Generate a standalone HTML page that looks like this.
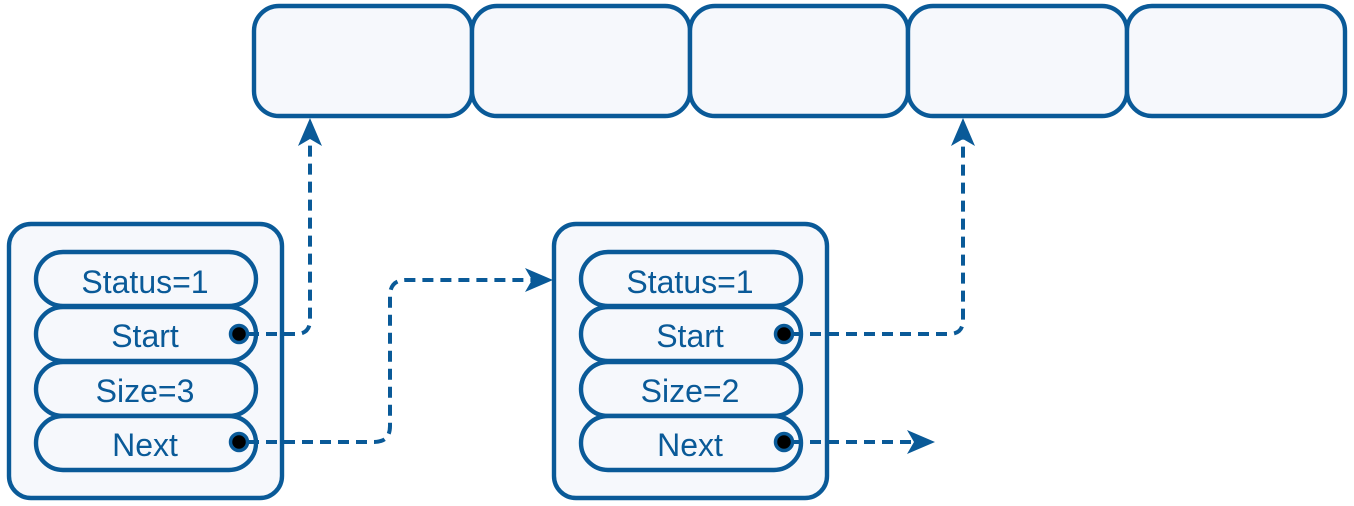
<!DOCTYPE html>
<html><head><style>
html,body{margin:0;padding:0;background:#fff;}
svg{display:block;}
text{font-family:"Liberation Sans",sans-serif;font-size:32px;fill:#0a5a98;text-anchor:middle;}
</style></head><body>
<svg width="1354" height="506" viewBox="0 0 1354 506" xmlns="http://www.w3.org/2000/svg">
<g fill="#f6f8fc" stroke="#0a5a98" stroke-width="4.4">
<rect x="254" y="6" width="218" height="110" rx="25"/>
<rect x="472" y="6" width="218" height="110" rx="25"/>
<rect x="690" y="6" width="218" height="110" rx="25"/>
<rect x="908" y="6" width="219" height="110" rx="25"/>
<rect x="1127" y="6" width="218" height="110" rx="25"/>
<rect x="9" y="224" width="273" height="274" rx="22"/>
<rect x="554" y="224" width="273" height="274" rx="22"/>
<rect x="36" y="252" width="220" height="54" rx="27"/>
<rect x="36" y="307" width="220" height="54" rx="27"/>
<rect x="36" y="362" width="220" height="54" rx="27"/>
<rect x="36" y="416" width="220" height="54" rx="27"/>
<rect x="581" y="252" width="220" height="54" rx="27"/>
<rect x="581" y="307" width="220" height="54" rx="27"/>
<rect x="581" y="362" width="220" height="54" rx="27"/>
<rect x="581" y="416" width="220" height="54" rx="27"/>
</g>
<text x="145" y="293">Status=1</text>
<text x="145" y="347">Start</text>
<text x="145" y="402">Size=3</text>
<text x="145" y="456">Next</text>
<text x="690" y="293">Status=1</text>
<text x="690" y="347">Start</text>
<text x="690" y="402">Size=2</text>
<text x="690" y="456">Next</text>
<g fill="none" stroke="#0a5a98" stroke-width="4" stroke-dasharray="11,7">
<path d="M248 334 H296 Q310 334 310 320 V135"/>
<path d="M248 442 H374 Q390 442 390 426 V296 Q390 280 406 280 H535"/>
<path d="M792 334 H949 Q963 334 963 320 V135"/>
<path d="M792 442 H918"/>
</g>
<g fill="#0a5a98">
<path d="M310 118 L322 146 L310 139 L298 146 Z"/>
<path d="M963 118 L975 146 L963 139 L951 146 Z"/>
<path d="M553 280 L525 292 L532 280 L525 268 Z"/>
<path d="M935 442 L907 454 L914 442 L907 430 Z"/>
</g>
<g fill="#000" stroke="#0a5a98" stroke-width="3.5">
<circle cx="239" cy="334" r="8.5"/>
<circle cx="239" cy="442" r="8.5"/>
<circle cx="784" cy="334" r="8.5"/>
<circle cx="784" cy="442" r="8.5"/>
</g>
</svg>
</body></html>
